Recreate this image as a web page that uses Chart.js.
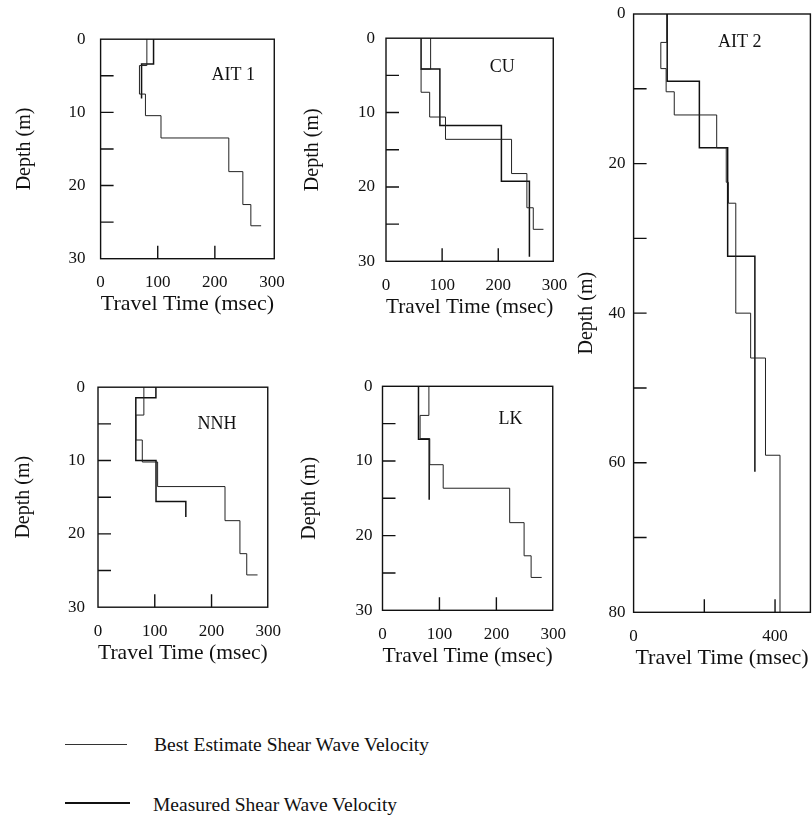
<!DOCTYPE html>
<html>
<head>
<meta charset="utf-8">
<script src="https://cdn.jsdelivr.net/npm/chart.js@4.4.1/dist/chart.umd.min.js"></script>
<style>
  html, body { margin: 0; padding: 0; background: #fff; overflow: hidden; }
  body { width: 812px; height: 817px; position: relative; font-family: 'Liberation Serif', 'Times New Roman', serif; }
  canvas { position: absolute; }
  .key-line { position: absolute; border-top: 1px solid #333; }
  .key-text { position: absolute; font-size: 19.5px; color: #111; white-space: nowrap; line-height: 1; }
</style>
</head>
<body>
<div class="key-line" style="left:65px; top:744px; width:62px;"></div>
<div class="key-text" style="left:154px; top:735px;">Best Estimate Shear Wave Velocity</div>
<div class="key-line" style="left:65px; top:802px; width:65px; border-top-width:2px; border-top-color:#111;"></div>
<div class="key-text" style="left:153px; top:795px;">Measured Shear Wave Velocity</div>
<script>
// travel time (msec) / depth (m) corners of each step profile
const ait1BestTime = [81, 68, 78.5, 105.7, 224.4, 249, 263, 281];
const ait1BestDepth = [0, 3.6, 7.5, 10.45, 13.5, 18.1, 22.6, 25.5];
const ait1MeasTime = [92.7, 71.7, 71.7];
const ait1MeasDepth = [0, 3.4, 8.1];

const cuBestTime = [79.5, 62.5, 77.8, 106, 223.7, 251, 262.4, 280.5];
const cuBestDepth = [0, 4.15, 7.27, 10.6, 13.6, 18.2, 22.8, 25.7];
const cuMeasTime = [62.5, 96, 205.6, 255.5, 255.5];
const cuMeasDepth = [0, 4.15, 11.74, 19.25, 29.4];

const nnhBestTime = [80.8, 66.6, 78, 105, 223.7, 250, 262, 281];
const nnhBestDepth = [0, 3.8, 7.2, 10.2, 13.55, 18.2, 22.7, 25.6];
const nnhMeasTime = [102, 66.6, 102.2, 154.7, 154.7];
const nnhMeasDepth = [0, 1.44, 10, 15.6, 17.7];

const lkBestTime = [81.5, 66, 83, 106.6, 223.4, 248.7, 261, 279.6];
const lkBestDepth = [0, 3.9, 7.0, 10.5, 13.65, 18.26, 22.7, 25.6];
const lkMeasTime = [63.2, 82, 82];
const lkMeasDepth = [0, 7.1, 15.2];

const ait2BestTime = [94, 77, 92, 115, 235, 262, 268, 289, 331, 373, 414, 414];
const ait2BestDepth = [0, 3.8, 7.3, 10.4, 13.5, 17.9, 22.5, 25.3, 40, 46, 59, 80];
const ait2MeasTime = [95, 186, 266, 343, 343];
const ait2MeasDepth = [0, 9, 17.9, 32.4, 61.2];

// axis ticks
const depthTicks30 = [5, 10, 15, 20, 25];
const depthLabels30 = [0, 10, 20, 30];
const timeTicks300 = [100, 200];
const timeLabels300 = [0, 100, 200, 300];
const depthTicks80 = [10, 20, 30, 40, 50, 60, 70];
const depthLabels80 = [0, 20, 40, 60, 80];
const timeTicks500 = [200, 400];
const timeLabels500 = [0, 400];

const FONT = "'Liberation Serif', 'Times New Roman', serif";
const INK = '#111';

// page layout of each panel: plot box [left, top, right, bottom] in px
const panels = [
  { label: 'AIT 1', labelAt: [232, 4.9], area: [100.6, 34.6, 279, 258.7], xMax: 304, yMax: 30,
    best: [ait1BestTime, ait1BestDepth], meas: [ait1MeasTime, ait1MeasDepth],
    xTicks: timeTicks300, xLabels: timeLabels300, yTicks: depthTicks30, yLabels: depthLabels30,
    yPad: 15, yTitleX: 25 },
  { label: 'CU', labelAt: [207, 3.9], area: [386, 37.4, 561, 261.3], xMax: 298, yMax: 30,
    best: [cuBestTime, cuBestDepth], meas: [cuMeasTime, cuMeasDepth],
    xTicks: timeTicks300, xLabels: timeLabels300, yTicks: depthTicks30, yLabels: depthLabels30,
    yPad: 11, yTitleX: 313 },
  { label: 'NNH', labelAt: [209.5, 5.0], area: [98, 384.3, 274.3, 607.2], xMax: 299, yMax: 30,
    best: [nnhBestTime, nnhBestDepth], meas: [nnhMeasTime, nnhMeasDepth],
    xTicks: timeTicks300, xLabels: timeLabels300, yTicks: depthTicks30, yLabels: depthLabels30,
    yPad: 13, yTitleX: 24 },
  { label: 'LK', labelAt: [225, 4.4], area: [382.5, 386.3, 560, 610.3], xMax: 299, yMax: 30,
    best: [lkBestTime, lkBestDepth], meas: [lkMeasTime, lkMeasDepth],
    xTicks: timeTicks300, xLabels: timeLabels300, yTicks: depthTicks30, yLabels: depthLabels30,
    yPad: 10, yTitleX: 310 },
  { label: 'AIT 2', labelAt: [300, 3.84], area: [633.6, 14, 810.4, 612.3], xMax: 500, yMax: 80,
    best: [ait2BestTime, ait2BestDepth], meas: [ait2MeasTime, ait2MeasDepth],
    xTicks: timeTicks500, xLabels: timeLabels500, yTicks: depthTicks80, yLabels: depthLabels80,
    yPad: 8, yTitleX: 587 }
];

// box round the plot, inward ticks and the site name
const frame = {
  id: 'frame',
  afterDatasetsDraw(chart, args, opts) {
    const { ctx, chartArea: a, scales: { x, y } } = chart;
    ctx.save();
    ctx.strokeStyle = INK;
    ctx.lineWidth = 1.4;
    ctx.strokeRect(a.left, a.top, a.right - a.left, a.bottom - a.top);
    ctx.beginPath();
    opts.yTicks.forEach(v => {
      const py = y.getPixelForValue(v);
      ctx.moveTo(a.left, py);
      ctx.lineTo(a.left + 13, py);
    });
    opts.xTicks.forEach(v => {
      const px = x.getPixelForValue(v);
      ctx.moveTo(px, a.bottom);
      ctx.lineTo(px, a.bottom - 13);
    });
    ctx.stroke();
    ctx.fillStyle = INK;
    ctx.font = '18px ' + FONT;
    ctx.textAlign = 'center';
    ctx.textBaseline = 'middle';
    ctx.fillText(opts.label, x.getPixelForValue(opts.labelAt[0]), y.getPixelForValue(opts.labelAt[1]));
    ctx.restore();
  }
};

function series(times, depths, w, color) {
  return {
    data: times.map((t, i) => ({ x: t, y: depths[i] })),
    showLine: true,
    stepped: 'after',
    borderColor: color,
    borderWidth: w,
    pointRadius: 0,
    fill: false,
    clip: false
  };
}

function drawPanel(p) {
  const wy = 100, hx = 60, padR = 20, padT = 20;
  const left = Math.floor(p.area[0] - wy);
  const top = Math.floor(p.area[1] - padT);
  const width = Math.ceil(p.area[2] + padR) - left;
  const height = Math.ceil(p.area[3] + hx) - top;
  const canvas = document.createElement('canvas');
  canvas.width = width;
  canvas.height = height;
  canvas.style.left = left + 'px';
  canvas.style.top = top + 'px';
  document.body.appendChild(canvas);
  const yW = p.area[0] - left;
  const xH = top + height - p.area[3];

  new Chart(canvas, {
    type: 'scatter',
    data: {
      datasets: [
        series(p.best[0], p.best[1], 1, '#222'),
        series(p.meas[0], p.meas[1], 1.5, INK)
      ]
    },
    options: {
      responsive: false,
      animation: false,
      devicePixelRatio: 1,
      layout: { padding: { top: p.area[1] - top, right: left + width - p.area[2], left: 0, bottom: 0 } },
      plugins: {
        legend: { display: false },
        tooltip: { enabled: false },
        frame: { xTicks: p.xTicks, yTicks: p.yTicks, label: p.label, labelAt: p.labelAt }
      },
      scales: {
        x: {
          type: 'linear', min: 0, max: p.xMax,
          grid: { display: false, drawTicks: false },
          border: { display: false },
          afterFit: s => { s.height = xH; },
          afterBuildTicks: s => { s.ticks = p.xLabels.map(v => ({ value: v })); },
          ticks: { padding: 14, color: INK, autoSkip: false, maxRotation: 0, font: { family: FONT, size: 17 } },
          title: { display: true, text: 'Travel Time (msec)', color: INK, font: { family: FONT, size: 22 }, padding: { top: 0, bottom: 2 } }
        },
        y: {
          type: 'linear', reverse: true, min: 0, max: p.yMax,
          grid: { display: false, drawTicks: false },
          border: { display: false },
          afterFit: s => { s.width = yW; },
          afterBuildTicks: s => { s.ticks = p.yLabels.map(v => ({ value: v })); },
          ticks: { padding: p.yPad, color: INK, autoSkip: false, font: { family: FONT, size: 17 } },
          title: { display: true, text: 'Depth (m)', color: INK, font: { family: FONT, size: 20 }, padding: { top: p.yTitleX - left - 12, bottom: 0 } }
        }
      }
    },
    plugins: [frame]
  });
}

panels.forEach(drawPanel);
</script>
</body>
</html>
